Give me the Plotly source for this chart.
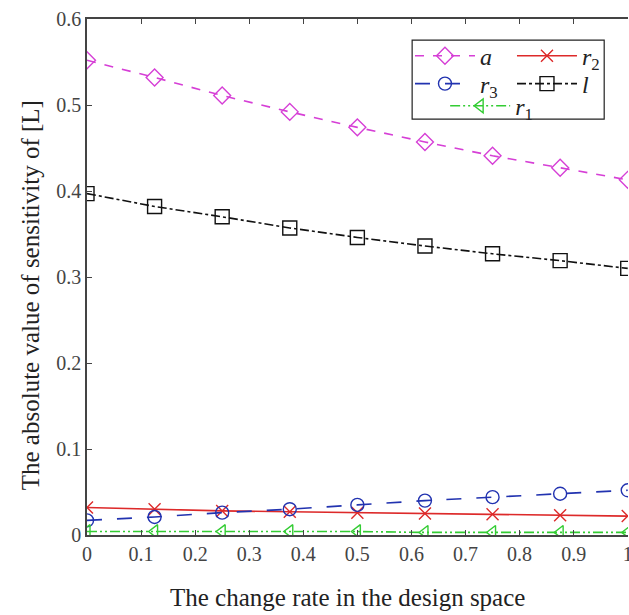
import plotly.graph_objects as go

x_vals = [0, 0.125, 0.25, 0.375, 0.5, 0.625, 0.75, 0.875, 1.0]
a_vals = [0.552, 0.532, 0.511, 0.492, 0.474, 0.457, 0.441, 0.427, 0.413]
r2_vals = [0.032, 0.030, 0.028, 0.027, 0.026, 0.025, 0.024, 0.023, 0.022]
r3_vals = [0.017, 0.021, 0.026, 0.030, 0.035, 0.040, 0.044, 0.048, 0.052]
l_vals = [0.397, 0.382, 0.370, 0.357, 0.346, 0.336, 0.327, 0.319, 0.310]
r1_vals = [0.004, 0.004, 0.004, 0.004, 0.004, 0.003, 0.003, 0.003, 0.003]
x_ticks = [0, 0.1, 0.2, 0.3, 0.4, 0.5, 0.6, 0.7, 0.8, 0.9, 1]
x_tick_text = ["0", "0.1", "0.2", "0.3", "0.4", "0.5", "0.6", "0.7", "0.8", "0.9", "1"]
y_ticks = [0, 0.1, 0.2, 0.3, 0.4, 0.5, 0.6]
y_tick_text = ["0", "0.1", "0.2", "0.3", "0.4", "0.5", "0.6"]
x_title = "The change rate in the design space"
y_title = "The absolute value of sensitivity of [L]"

FONT = "Liberation Serif"

series = [
    ("<i>a</i>", a_vals, "#d63fd6", "dash", "diamond-open", 13, "legend"),
    ("<i>r</i><sub>2</sub>", r2_vals, "#dd2a2a", "solid", "x-thin-open", 12, "legend"),
    ("<i>r</i><sub>3</sub>", r3_vals, "#2233b0", "longdash", "circle-open", 13, "legend2"),
    ("<i>l</i>", l_vals, "#111111", "dashdot", "square-open", 14, "legend2"),
    ("<i>r</i><sub>1</sub>", r1_vals, "#33cc33", "10px,3px,2px,3px,2px,3px", "triangle-left-open", 12, "legend3"),
]

fig = go.Figure()
for name, vals, color, dash, sym, size, leg in series:
    fig.add_trace(go.Scatter(
        x=x_vals, y=vals, name=name, mode="lines+markers", legend=leg,
        line=dict(color=color, width=1.6, dash=dash),
        marker=dict(symbol=sym, size=size, color=color,
                    line=dict(color=color, width=1.4)),
    ))

leg_common = dict(
    orientation="h", entrywidth=27, entrywidthmode="pixels", itemwidth=60,
    xanchor="left", yanchor="middle",
    bgcolor="rgba(0,0,0,0)", borderwidth=0,
    font=dict(family=FONT, size=24, color="#222222"),
)

fig.add_shape(type="rect", xref="paper", yref="paper",
              x0=0.601, x1=0.956, y0=0.806, y1=0.959,
              line=dict(color="#222222", width=1.2), fillcolor="white",
              layer="above")

fig.add_annotation(text=x_title, xref="paper", yref="paper",
                   x=0.4806, y=-0.121, xanchor="center", yanchor="middle",
                   showarrow=False, font=dict(family=FONT, size=25, color="#222222"))
fig.add_annotation(text=y_title, xref="paper", yref="paper", textangle=-90,
                   x=-0.105, y=0.465, xanchor="center", yanchor="middle",
                   showarrow=False, font=dict(family=FONT, size=25, color="#222222"))

fig.update_layout(
    width=629, height=615,
    margin=dict(l=87, r=1, t=19, b=80, autoexpand=False),
    paper_bgcolor="white", plot_bgcolor="white",
    font=dict(family=FONT, size=20, color="#333333"),
    showlegend=True,
    legend=dict(x=0.597, y=0.928, **leg_common),
    legend2=dict(x=0.597, y=0.874, **leg_common),
    legend3=dict(x=0.662, y=0.831, **leg_common),
    xaxis=dict(
        range=[0, 1.0005], tickvals=x_ticks, ticktext=x_tick_text,
        ticks="inside", ticklen=5, tickcolor="#444444",
        showline=True, linecolor="#444444", linewidth=1.5, mirror="ticks",
        showgrid=False, zeroline=False, ticklabeloverflow="allow",
        automargin=False,
        tickfont=dict(family=FONT, size=20, color="#444444"),
    ),
    yaxis=dict(
        range=[0, 0.6], tickvals=y_ticks, ticktext=y_tick_text,
        ticks="inside", ticklen=5, tickcolor="#444444",
        showline=True, linecolor="#444444", linewidth=1.5, mirror=False,
        showgrid=False, zeroline=False, automargin=False,
        tickfont=dict(family=FONT, size=20, color="#444444"),
    ),
)

fig.write_html("out.html")
